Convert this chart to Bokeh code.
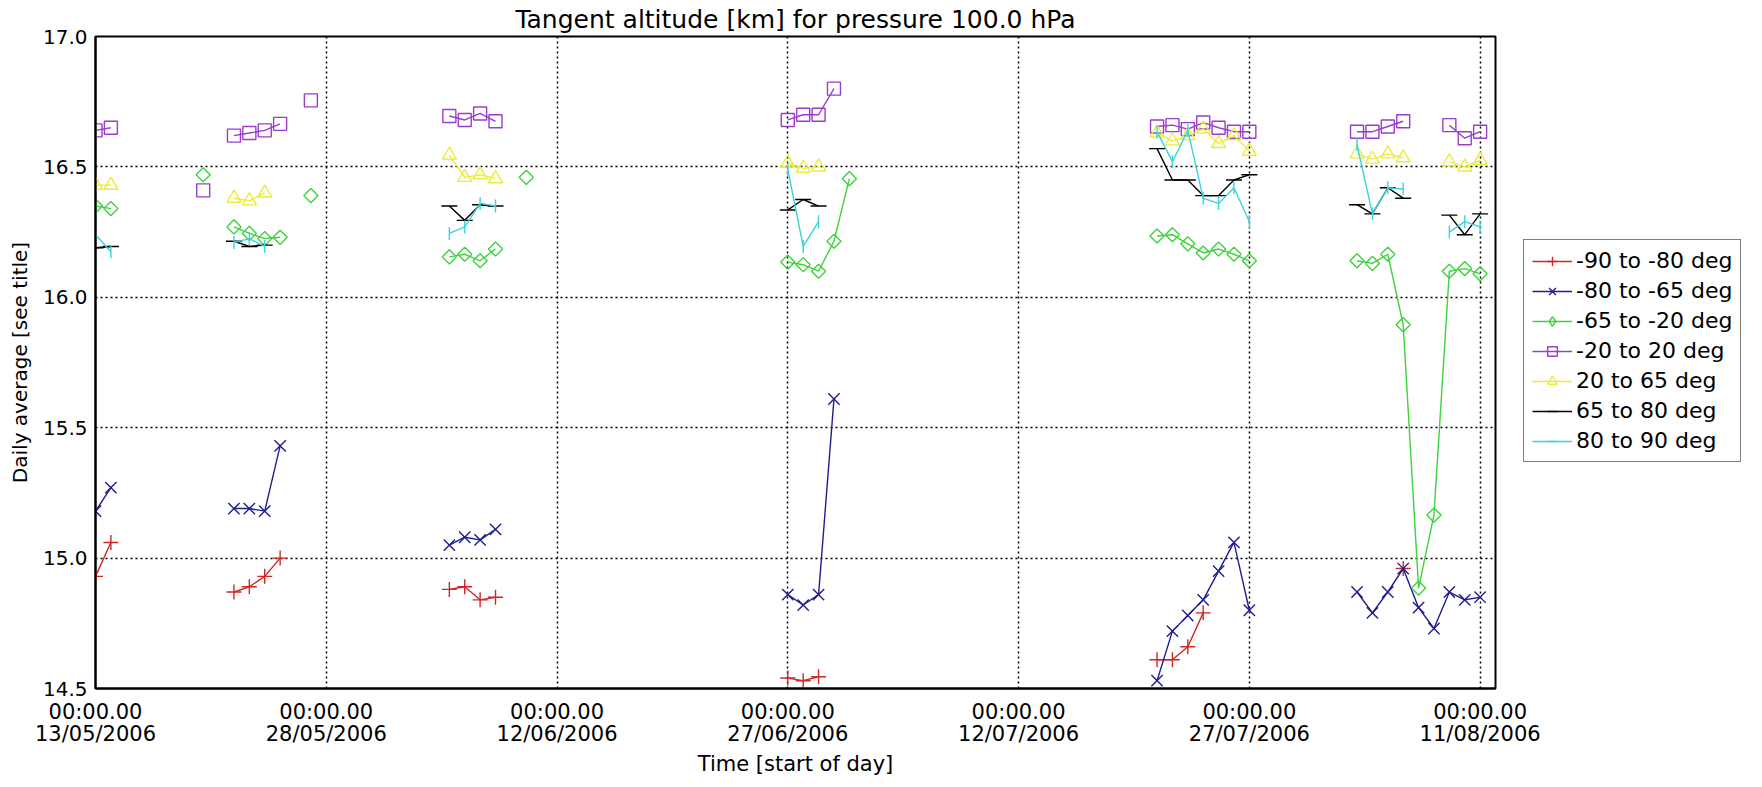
import numpy as np
import pandas as pd
from bokeh.plotting import figure
from bokeh.models import Range1d, FixedTicker, Legend, LegendItem, NumeralTickFormatter
from bokeh.embed import file_html
from bokeh.resources import INLINE

TITLE = "Tangent altitude [km] for pressure 100.0 hPa"
X_LABEL = "Time [start of day]"
Y_LABEL = "Daily average [see title]"

X_START = "2006-05-13"
X_END = "2006-08-12"
TICK_DATES = ["2006-05-13", "2006-05-28", "2006-06-12", "2006-06-27",
              "2006-07-12", "2006-07-27", "2006-08-11"]
TICK_LABELS = ["00:00.00\n13/05/2006", "00:00.00\n28/05/2006", "00:00.00\n12/06/2006",
               "00:00.00\n27/06/2006", "00:00.00\n12/07/2006", "00:00.00\n27/07/2006",
               "00:00.00\n11/08/2006"]
Y_TICKS = [14.5, 15.0, 15.5, 16.0, 16.5, 17.0]

SERIES_NAMES = ["-90 to -80 deg", "-80 to -65 deg", "-65 to -20 deg", "-20 to 20 deg",
                "20 to 65 deg", "65 to 80 deg", "80 to 90 deg"]

# each series: runs of (first day, values on consecutive days)
LAT_M90_M80 = [
    ("2006-05-13", [14.93, 15.06]),
    ("2006-05-22", [14.87, 14.89, 14.93, 15.00]),
    ("2006-06-05", [14.88, 14.89, 14.84, 14.85]),
    ("2006-06-27", [14.54, 14.53, 14.545]),
    ("2006-07-21", [14.61, 14.61, 14.66, 14.79]),
    ("2006-08-06", [14.96]),
]
LAT_M80_M65 = [
    ("2006-05-13", [15.18, 15.27]),
    ("2006-05-22", [15.19, 15.19, 15.18, 15.43]),
    ("2006-06-05", [15.05, 15.08, 15.07, 15.11]),
    ("2006-06-27", [14.86, 14.82, 14.86, 15.61]),
    ("2006-07-21", [14.53, 14.72, 14.78, 14.84, 14.95, 15.06, 14.80]),
    ("2006-08-03", [14.87, 14.79, 14.87, 14.96, 14.81, 14.73, 14.87, 14.84, 14.85]),
]
LAT_M65_M20 = [
    ("2006-05-13", [16.35, 16.34]),
    ("2006-05-20", [16.47]),
    ("2006-05-22", [16.27, 16.245, 16.225, 16.23]),
    ("2006-05-27", [16.39]),
    ("2006-06-05", [16.155, 16.165, 16.14, 16.185]),
    ("2006-06-10", [16.46]),
    ("2006-06-27", [16.135, 16.125, 16.10, 16.215, 16.455]),
    ("2006-07-21", [16.235, 16.24, 16.205, 16.17, 16.185, 16.165, 16.14]),
    ("2006-08-03", [16.14, 16.13, 16.165, 15.895, 14.885, 15.165, 16.10, 16.11, 16.09]),
]
LAT_M20_P20 = [
    ("2006-05-13", [16.64, 16.65]),
    ("2006-05-20", [16.41]),
    ("2006-05-22", [16.62, 16.63, 16.64, 16.665]),
    ("2006-05-27", [16.755]),
    ("2006-06-05", [16.695, 16.68, 16.705, 16.675]),
    ("2006-06-27", [16.68, 16.70, 16.70, 16.80]),
    ("2006-07-21", [16.655, 16.66, 16.645, 16.67, 16.65, 16.635, 16.635]),
    ("2006-08-03", [16.635, 16.635, 16.655, 16.675]),
    ("2006-08-09", [16.66, 16.61, 16.635]),
]
LAT_P20_P65 = [
    ("2006-05-13", [16.43, 16.43]),
    ("2006-05-22", [16.38, 16.37, 16.40]),
    ("2006-06-05", [16.545, 16.46, 16.47, 16.455]),
    ("2006-06-27", [16.515, 16.495, 16.50]),
    ("2006-07-21", [16.63, 16.60, 16.62, 16.645, 16.59, 16.62, 16.56]),
    ("2006-08-03", [16.55, 16.53, 16.55, 16.535]),
    ("2006-08-09", [16.52, 16.50, 16.525]),
]
LAT_P65_P80 = [
    ("2006-05-13", [16.19, 16.195]),
    ("2006-05-22", [16.215, 16.195, 16.20]),
    ("2006-06-05", [16.35, 16.295, 16.355, 16.35]),
    ("2006-06-27", [16.335, 16.375, 16.35]),
    ("2006-07-21", [16.57, 16.45, 16.45, 16.39, 16.39, 16.45, 16.47]),
    ("2006-08-03", [16.355, 16.32, 16.42, 16.38]),
    ("2006-08-09", [16.315, 16.24, 16.32]),
]
LAT_P80_P90 = [
    ("2006-05-13", [16.24, 16.175]),
    ("2006-05-22", [16.21, 16.225, 16.195]),
    ("2006-06-05", [16.245, 16.27, 16.36, 16.35]),
    ("2006-06-27", [16.49, 16.195, 16.29]),
    ("2006-07-21", [16.635, 16.52, 16.64, 16.38, 16.36, 16.42, 16.29]),
    ("2006-08-03", [16.585, 16.32, 16.42, 16.415]),
    ("2006-08-09", [16.25, 16.29, 16.27]),
]

SERIES = [LAT_M90_M80, LAT_M80_M65, LAT_M65_M20, LAT_M20_P20, LAT_P20_P65, LAT_P65_P80, LAT_P80_P90]
COLORS = ["#d02626", "#1e1e8e", "#3ed23e", "#9a3ccc", "#ecec3a", "#000000", "#3cd4dc"]
MARKERS = ["cross", "x", "square", "square", "triangle", "dash", "dash"]
ANGLES = [0, 0, np.pi / 4, 0, 0, 0, np.pi / 2]
SIZES = [15, 16, 10, 13, 14, 16, 13]
LEGEND_MARKERS = ["cross", "x", "diamond", "square", "triangle", "dash", "dash"]

FONT = "DejaVu Sans"


def build(runs):
    xs, ys = [], []
    for start, vals in runs:
        d0 = pd.Timestamp(start)
        for i, v in enumerate(vals):
            xs.append(d0 + pd.Timedelta(days=i))
            ys.append(v)
        xs.append(d0 + pd.Timedelta(days=len(vals) - 0.5))
        ys.append(np.nan)
    return pd.DatetimeIndex(xs), np.array(ys, dtype=float)


def ms(d):
    return float(pd.Timestamp(d).value // 10**6)


p = figure(frame_width=1400, frame_height=652, x_axis_type="datetime",
           output_backend="svg", toolbar_location=None,
           x_range=Range1d(pd.Timestamp(X_START), pd.Timestamp(X_END)),
           y_range=Range1d(14.5, 17.0))
p.min_border_left = 95
p.min_border_right = 251
p.min_border_top = 36
p.min_border_bottom = 83
p.background_fill_color = "white"
p.border_fill_color = "white"
p.outline_line_color = "black"
p.outline_line_width = 2

p.title.text = TITLE
p.title.align = "center"
p.title.text_font = FONT
p.title.text_font_size = "25px"
p.title.text_font_style = "normal"
p.title.text_color = "black"
p.title.standoff = 5

xticks = FixedTicker(ticks=[ms(d) for d in TICK_DATES])
yticks = FixedTicker(ticks=Y_TICKS)
p.xaxis.ticker = xticks
p.yaxis.ticker = yticks
p.xaxis.major_label_overrides = {ms(d): lab for d, lab in zip(TICK_DATES, TICK_LABELS)}
p.yaxis.formatter = NumeralTickFormatter(format="0.0")
p.xaxis.axis_label = X_LABEL
p.yaxis.axis_label = Y_LABEL
for ax in (p.xaxis, p.yaxis):
    ax.axis_label_text_font = FONT
    ax.axis_label_text_font_size = "21px"
    ax.axis_label_text_font_style = "normal"
    ax.axis_label_text_color = "black"
    ax.major_label_text_font = FONT
    ax.major_label_text_color = "black"
    ax.major_tick_in = 0
    ax.major_tick_out = 0
    ax.minor_tick_in = 0
    ax.minor_tick_out = 0
    ax.axis_line_color = "black"
    ax.axis_line_width = 2
p.xaxis.major_label_text_font_size = "21px"
p.xaxis.major_label_text_line_height = 0.92
p.yaxis.major_label_text_font_size = "20px"
p.yaxis.axis_label_text_font_size = "20px"
p.xaxis.major_label_standoff = 11
p.xaxis.axis_label_standoff = 3
p.yaxis.major_label_standoff = 8
p.yaxis.axis_label_standoff = 8

for g, t in ((p.xgrid, xticks), (p.ygrid, yticks)):
    g.ticker = t
    g.grid_line_color = "black"
    g.grid_line_dash = "2 3"
    g.grid_line_width = 1.5

items = []
for name, runs, col, mk, ang, sz, lmk in zip(SERIES_NAMES, SERIES, COLORS, MARKERS,
                                             ANGLES, SIZES, LEGEND_MARKERS):
    x, y = build(runs)
    lr = p.line(x, y, line_color=col, line_width=1.4)
    sr = p.scatter(x, y, marker=mk, size=sz, angle=ang, line_color=col,
                   fill_color=None, line_width=1.4)
    if lmk != mk:
        # key-only swatch: one undefined (NaN) point, so nothing is drawn in the plot
        key = p.scatter(x=[pd.Timestamp(X_START)], y=[np.nan], marker=lmk, size=14,
                        line_color=col, fill_color=None, line_width=1.4)
        items.append(LegendItem(label=name, renderers=[lr, key]))
    else:
        items.append(LegendItem(label=name, renderers=[lr, sr]))

legend = Legend(items=items, location=(28, 226))
legend.label_text_font = FONT
legend.label_text_font_size = "22px"
legend.label_text_color = "black"
legend.glyph_width = 40
legend.glyph_height = 24
legend.label_height = 24
legend.spacing = 5
legend.padding = 8
legend.margin = 0
legend.label_standoff = 4
legend.border_line_color = "black"
legend.border_line_width = 1.5
legend.background_fill_color = "white"
legend.background_fill_alpha = 1.0
p.add_layout(legend, "right")

open("out.html", "w").write(file_html(p, INLINE))
